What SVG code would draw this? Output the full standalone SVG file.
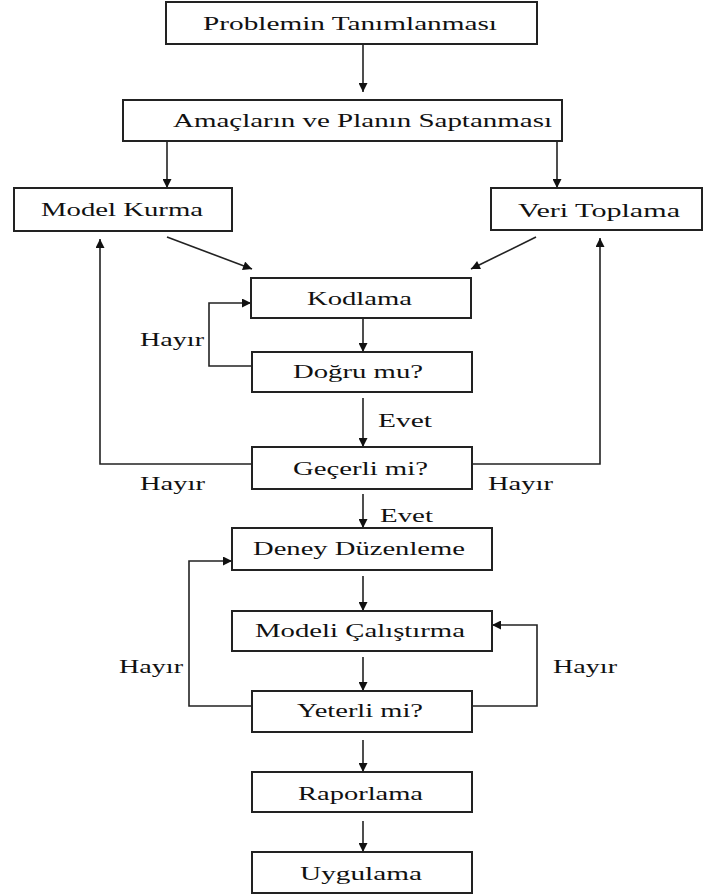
<svg xmlns="http://www.w3.org/2000/svg" width="703" height="895" viewBox="0 0 703 895">
<style>
.box{fill:#fff;stroke:#222;stroke-width:2}
.t{font-family:"Liberation Serif","Times New Roman",serif;font-size:19px;fill:#111}
.ln{fill:none;stroke:#222;stroke-width:1.6}
</style>
<defs>
<marker id="ah" viewBox="0 0 10 10" refX="10" refY="5" markerWidth="10" markerHeight="9" markerUnits="userSpaceOnUse" orient="auto">
<path d="M0,0 L10,5 L0,10 Z" fill="#111"/>
</marker>
</defs>
<rect width="703" height="895" fill="#fff"/>
<g id="connectors">
<path class="ln" d="M363,44 V92" marker-end="url(#ah)"/>
<path class="ln" d="M167,141 V188" marker-end="url(#ah)"/>
<path class="ln" d="M557,141 V188" marker-end="url(#ah)"/>
<path class="ln" d="M167,237 L252,269" marker-end="url(#ah)"/>
<path class="ln" d="M536,237 L471,269" marker-end="url(#ah)"/>
<path class="ln" d="M363,318 V352" marker-end="url(#ah)"/>
<path class="ln" d="M252,366 H209 V303 H251" marker-end="url(#ah)"/>
<path class="ln" d="M363,398 V447" marker-end="url(#ah)"/>
<path class="ln" d="M252,464 H100 V239" marker-end="url(#ah)"/>
<path class="ln" d="M472,464 H600 V238" marker-end="url(#ah)"/>
<path class="ln" d="M363,494 V528" marker-end="url(#ah)"/>
<path class="ln" d="M363,576 V611" marker-end="url(#ah)"/>
<path class="ln" d="M363,657 V691" marker-end="url(#ah)"/>
<path class="ln" d="M252,706 H189 V561 H232" marker-end="url(#ah)"/>
<path class="ln" d="M472,706 H537 V625 H492" marker-end="url(#ah)"/>
<path class="ln" d="M363,740 V772" marker-end="url(#ah)"/>
<path class="ln" d="M363,821 V852" marker-end="url(#ah)"/>
</g>
<g id="labels">
<text class="t" x="378" y="427" textLength="54" lengthAdjust="spacingAndGlyphs">Evet</text>
<text class="t" x="140" y="346" textLength="64" lengthAdjust="spacingAndGlyphs">Hayır</text>
<text class="t" x="140" y="490" textLength="65" lengthAdjust="spacingAndGlyphs">Hayır</text>
<text class="t" x="488" y="490" textLength="65" lengthAdjust="spacingAndGlyphs">Hayır</text>
<text class="t" x="380" y="522" textLength="53" lengthAdjust="spacingAndGlyphs">Evet</text>
<text class="t" x="119" y="673" textLength="64" lengthAdjust="spacingAndGlyphs">Hayır</text>
<text class="t" x="553" y="673" textLength="64" lengthAdjust="spacingAndGlyphs">Hayır</text>
</g>
<g id="n1"><rect class="box" x="166" y="2" width="371" height="42"/><text class="t" x="203" y="30" textLength="294" lengthAdjust="spacingAndGlyphs">Problemin Tanımlanması</text></g>
<g id="n2"><rect class="box" x="123" y="100" width="439" height="41"/><text class="t" x="173" y="127" textLength="379" lengthAdjust="spacingAndGlyphs">Amaçların ve Planın Saptanması</text></g>
<g id="n3"><rect class="box" x="14" y="188" width="218" height="43"/><text class="t" x="41" y="216" textLength="162" lengthAdjust="spacingAndGlyphs">Model Kurma</text></g>
<g id="n4"><rect class="box" x="491" y="188" width="211" height="42"/><text class="t" x="518" y="217" textLength="162" lengthAdjust="spacingAndGlyphs">Veri Toplama</text></g>
<g id="n5"><rect class="box" x="251" y="278" width="220" height="40"/><text class="t" x="307" y="305" textLength="105" lengthAdjust="spacingAndGlyphs">Kodlama</text></g>
<g id="n6"><rect class="box" x="252" y="352" width="220" height="40"/><text class="t" x="293" y="378" textLength="130" lengthAdjust="spacingAndGlyphs">Doğru mu?</text></g>
<g id="n7"><rect class="box" x="252" y="447" width="220" height="42"/><text class="t" x="293" y="475" textLength="135" lengthAdjust="spacingAndGlyphs">Geçerli mi?</text></g>
<g id="n8"><rect class="box" x="232" y="528" width="260" height="42"/><text class="t" x="253" y="555" textLength="212" lengthAdjust="spacingAndGlyphs">Deney Düzenleme</text></g>
<g id="n9"><rect class="box" x="232" y="611" width="260" height="40"/><text class="t" x="255" y="637" textLength="210" lengthAdjust="spacingAndGlyphs">Modeli Çalıştırma</text></g>
<g id="n10"><rect class="box" x="252" y="691" width="220" height="41"/><text class="t" x="297" y="717" textLength="126" lengthAdjust="spacingAndGlyphs">Yeterli mi?</text></g>
<g id="n11"><rect class="box" x="252" y="772" width="220" height="40"/><text class="t" x="298" y="800" textLength="125" lengthAdjust="spacingAndGlyphs">Raporlama</text></g>
<g id="n12"><rect class="box" x="252" y="852" width="220" height="41"/><text class="t" x="300" y="880" textLength="122" lengthAdjust="spacingAndGlyphs">Uygulama</text></g>
</svg>
